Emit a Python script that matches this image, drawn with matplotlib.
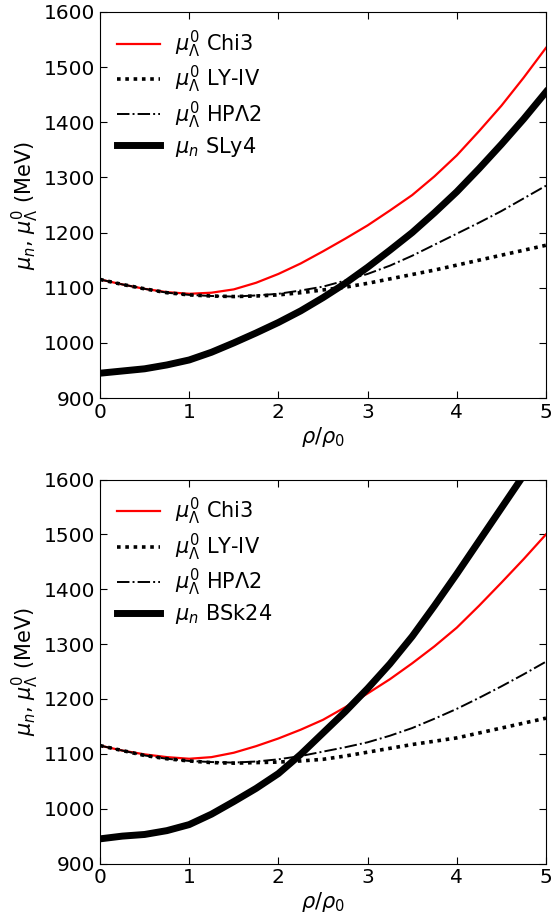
import matplotlib
matplotlib.use("Agg")
import matplotlib.pyplot as plt

matplotlib.rcParams["figure.dpi"] = 100
matplotlib.rcParams["font.size"] = 14

rho = [0.0, 0.25, 0.5, 0.75, 1.0, 1.25, 1.5, 1.75, 2.0, 2.25, 2.5,
       2.75, 3.0, 3.25, 3.5, 3.75, 4.0, 4.25, 4.5, 4.75, 5.0]

# top panel (SLy4)
chi3_top = [1115, 1106, 1098, 1092, 1089, 1091, 1097, 1109, 1125, 1144, 1166,
            1189, 1213, 1240, 1268, 1302, 1340, 1384, 1430, 1481, 1535]
ly4_top = [1115, 1106, 1098, 1091, 1087, 1085, 1084, 1085, 1087, 1091, 1096,
           1101, 1108, 1116, 1124, 1132, 1141, 1150, 1159, 1168, 1177]
hp2_top = [1115, 1106, 1098, 1091, 1087, 1085, 1084, 1086, 1089, 1095, 1102,
           1113, 1125, 1140, 1158, 1178, 1198, 1218, 1239, 1262, 1285]
sly4 = [945, 949, 953, 960, 969, 983, 1000, 1018, 1037, 1058, 1082,
        1108, 1137, 1168, 1200, 1236, 1274, 1316, 1360, 1406, 1455]

# bottom panel (BSk24)
chi3_bot = [1115, 1106, 1099, 1094, 1091, 1094, 1102, 1114, 1128, 1144, 1162,
            1185, 1210, 1236, 1265, 1296, 1330, 1370, 1412, 1455, 1500]
ly4_bot = [1115, 1106, 1097, 1091, 1087, 1084, 1083, 1084, 1085, 1087, 1090,
           1096, 1103, 1110, 1117, 1123, 1129, 1138, 1147, 1156, 1165]
hp2_bot = [1115, 1106, 1097, 1091, 1087, 1085, 1084, 1086, 1090, 1096, 1104,
           1112, 1121, 1133, 1147, 1164, 1182, 1202, 1223, 1245, 1268]
bsk24 = [945, 950, 953, 960, 971, 990, 1013, 1037, 1064, 1099, 1138,
         1177, 1219, 1264, 1314, 1370, 1428, 1488, 1548, 1608, 1668]

lam = r"$\mu^0_\Lambda$"
labels = [lam + " Chi3", lam + " LY-IV", lam + " HPΛ2"]
xticks = [0, 1, 2, 3, 4, 5]
yticks = [900, 1000, 1100, 1200, 1300, 1400, 1500, 1600]


def draw_panel(ax, chi3, ly4, hp2, mun, nlabel):
    ax.plot(rho, chi3, color="red", lw=1.6, label=labels[0])
    ax.plot(rho, ly4, color="black", lw=2.6, ls=(0, (1, 1.3)), label=labels[1])
    ax.plot(rho, hp2, color="black", lw=1.4, ls="-.", label=labels[2])
    ax.plot(rho, mun, color="black", lw=5, label=r"$\mu_n$ " + nlabel)
    ax.set_xlim(0, 5)
    ax.set_ylim(900, 1600)
    ax.set_xticks(xticks)
    ax.set_yticks(yticks)
    ax.tick_params(direction="in", top=True, right=True, length=5, labelsize=14.5)
    ax.set_xlabel(r"$\rho/\rho_0$", fontsize=15, labelpad=2)
    ax.set_ylabel(r"$\mu_n$, $\mu^0_\Lambda$ (MeV)", fontsize=15, labelpad=2)
    ax.legend(loc="upper left", frameon=False, fontsize=15, handlelength=2.1,
              labelspacing=0.2, borderaxespad=0.4, handletextpad=0.7)


fig = plt.figure(figsize=(5.51, 9.22))
ax1 = fig.add_axes([0.1815, 0.5683, 0.8094, 0.4187])
ax2 = fig.add_axes([0.1815, 0.0634, 0.8094, 0.4165])

draw_panel(ax1, chi3_top, ly4_top, hp2_top, sly4, "SLy4")
draw_panel(ax2, chi3_bot, ly4_bot, hp2_bot, bsk24, "BSk24")

fig.savefig("out.png")
